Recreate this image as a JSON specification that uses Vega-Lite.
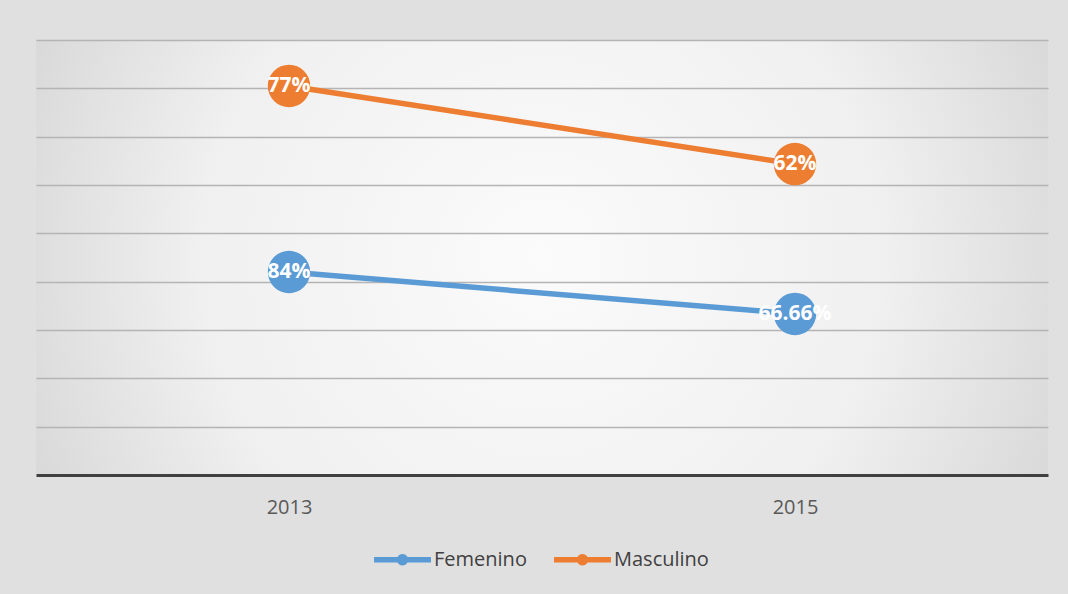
{
  "$schema": "https://vega.github.io/schema/vega-lite/v6.json",
  "width": 1012,
  "height": 435,
  "autosize": {"type": "none"},
  "padding": {"left": 36, "top": 40, "right": 20, "bottom": 119},
  "background": "#e0e0e0",
  "config": {
    "font": "Open Sans",
    "view": {
      "stroke": null,
      "fill": {
        "gradient": "radial",
        "x1": 0.5, "y1": 0.5, "r1": 0,
        "x2": 0.5, "y2": 0.5, "r2": 0.75,
        "stops": [
          {"offset": 0, "color": "#fbfbfb"},
          {"offset": 0.45, "color": "#f0f0f0"},
          {"offset": 1, "color": "#c2c2c2"}
        ]
      }
    }
  },
  "data": {
    "values": [
      {"year": "2013", "sexo": "Femenino", "orden": 1, "valor": 84, "etiqueta": "84%"},
      {"year": "2015", "sexo": "Femenino", "orden": 1, "valor": 66.66, "etiqueta": "66.66%"},
      {"year": "2013", "sexo": "Masculino", "orden": 2, "valor": 77, "etiqueta": "77%"},
      {"year": "2015", "sexo": "Masculino", "orden": 2, "valor": 62, "etiqueta": "62%"}
    ]
  },
  "transform": [
    {"stack": "valor", "groupby": ["year"], "sort": [{"field": "orden", "order": "ascending"}], "as": ["v0", "v1"]}
  ],
  "encoding": {
    "x": {
      "field": "year", "type": "nominal",
      "scale": {"type": "point", "padding": 0.5},
      "axis": {
        "title": null, "labelAngle": 0, "ticks": false, "grid": false,
        "domainColor": "#404040", "domainWidth": 3,
        "labelFontSize": 20, "labelColor": "#595959", "labelPadding": 22
      }
    },
    "y": {
      "field": "v1", "type": "quantitative",
      "scale": {"domain": [0, 180], "nice": false},
      "axis": {
        "title": null, "labels": false, "ticks": false, "domain": false,
        "values": [20, 40, 60, 80, 100, 120, 140, 160, 180],
        "gridColor": "#b4b4b4", "gridWidth": 1.5
      }
    },
    "color": {
      "field": "sexo", "type": "nominal",
      "scale": {"domain": ["Femenino", "Masculino"], "range": ["#5B9BD5", "#ED7D31"]},
      "legend": {
        "title": null,
        "orient": "none",
        "direction": "horizontal",
        "legendX": 338,
        "legendY": 491,
        "symbolType": "M-1,-0.095 L-0.175,-0.095 A0.2,0.2 0 0,1 0.175,-0.095 L1,-0.095 L1,0.095 L0.175,0.095 A0.2,0.2 0 0,1 -0.175,0.095 L-1,0.095 Z",
        "symbolSize": 3249,
        "symbolStrokeWidth": 0,
        "labelFontSize": 20,
        "labelColor": "#404040",
        "labelOffset": 3,
        "columnPadding": 27
      }
    },
    "detail": {"field": "sexo"}
  },
  "layer": [
    {"mark": {"type": "point", "filled": true, "opacity": 1, "size": 1800, "shape": "circle"}},
    {"mark": {"type": "line", "strokeWidth": 5.5}},
    {
      "mark": {"type": "text", "fontSize": 21, "fontWeight": "bold", "baseline": "middle", "align": "center"},
      "encoding": {
        "text": {"field": "etiqueta"},
        "color": {"value": "white"}
      }
    }
  ]
}
